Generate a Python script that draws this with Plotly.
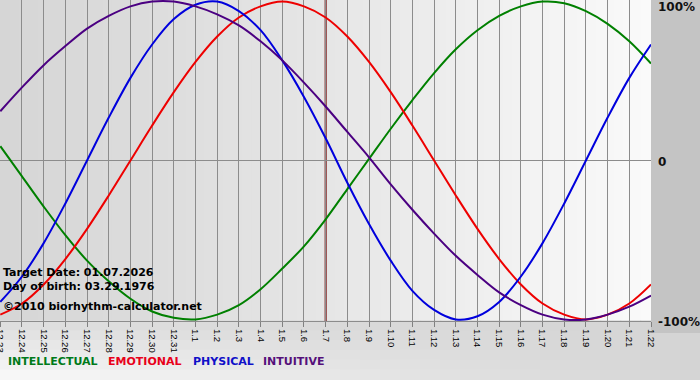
import plotly.graph_objects as go

# ---- data ----
dates = ["12.23", "12.24", "12.25", "12.26", "12.27", "12.28", "12.29", "12.30", "12.31",
         "1.1", "1.2", "1.3", "1.4", "1.5", "1.6", "1.7", "1.8", "1.9", "1.10", "1.11",
         "1.12", "1.13", "1.14", "1.15", "1.16", "1.17", "1.18", "1.19", "1.20", "1.21", "1.22"]

physical = [-89, -73, -52, -27, 0, 27, 52, 73, 89, 98, 100, 94, 82, 63, 40, 14,
            -14, -40, -63, -82, -94, -100, -98, -89, -73, -52, -27, 0, 27, 52, 73]
emotional = [-97, -90, -78, -62, -43, -22, 0, 22, 43, 62, 78, 90, 97, 100, 97, 90,
             78, 62, 43, 22, 0, -22, -43, -62, -78, -90, -97, -100, -97, -90, -78]
intellectual = [9, -10, -29, -47, -63, -76, -87, -95, -99, -100, -97, -91, -81, -68, -54, -37,
                -18, 1, 20, 38, 55, 70, 82, 91, 97, 100, 99, 94, 86, 75, 61]
intuitive = [31, 46, 60, 72, 83, 91, 97, 100, 100, 97, 92, 85, 75, 63, 49, 34,
             18, 2, -15, -31, -46, -60, -72, -83, -91, -97, -100, -100, -97, -92, -85]

series_names = ["INTELLECTUAL", "EMOTIONAL", "PHYSICAL", "INTUITIVE"]
target_date = "1.7"
target_text = "Target Date: 01.07.2026"
birth_text = "Day of birth: 03.29.1976"
credit_text = "©2010 biorhythm-calculator.net"
y_labels = ["100%", "0", "-100%"]
y_label_vals = [100, 0, -100]

# ---- styling ----
W, H = 700, 380
PR, PB = 651, 321          # plot right edge / bottom edge in pixels
colors = {"INTELLECTUAL": "#008000", "EMOTIONAL": "#ee0000",
          "PHYSICAL": "#0000dd", "INTUITIVE": "#4b0082"}
text_colors = {"INTELLECTUAL": "#007a1a", "EMOTIONAL": "#e8001a",
               "PHYSICAL": "#1010c8", "INTUITIVE": "#55107a"}
values = {"INTELLECTUAL": intellectual, "EMOTIONAL": emotional,
          "PHYSICAL": physical, "INTUITIVE": intuitive}

def px(x):
    return x / PR

def py(y):
    return (PB - y) / PB

def gray(v):
    v = int(round(max(0, min(255, v))))
    return f"rgb({v},{v},{v})"

fig = go.Figure()
idx = list(range(len(dates)))
for name in series_names:
    fig.add_trace(go.Scatter(
        x=idx, y=values[name], mode="lines", name=name,
        line=dict(color=colors[name], width=2, shape="spline", smoothing=1),
        hoverinfo="skip", showlegend=False))

shapes = []
# plot-area horizontal gradient
N = 70
for i in range(N):
    t = (i + 0.5) / N
    v = 214 + 36 * (t ** 1.15)
    shapes.append(dict(type="rect", xref="paper", yref="paper", x0=i / N, x1=(i + 1) / N + 0.002,
                       y0=0, y1=1, fillcolor=gray(v), line=dict(width=0), layer="below"))
# bottom strip gradient (lighter toward bottom-left)
NX, NY = 35, 6
for i in range(NX):
    for j in range(NY):
        xa = W * i / NX
        xb = W * (i + 1) / NX
        ya = PB + (H - PB) * j / NY
        yb = PB + (H - PB) * (j + 1) / NY
        tx = (i + 0.5) / NX
        ty = (j + 0.5) / NY
        v = 212 + 38 * (1 - tx) * ty + 8 * (1 - tx) * (1 - ty)
        shapes.append(dict(type="rect", xref="paper", yref="paper",
                           x0=px(xa), x1=px(xb) + 0.002, y0=py(yb), y1=py(ya) + 0.002,
                           fillcolor=gray(v), line=dict(width=0), layer="below"))
# right gray strip
shapes.append(dict(type="rect", xref="paper", yref="paper", x0=1.0, x1=px(W) + 0.01,
                   y0=py(PB + 12), y1=1.0, fillcolor="#c4c4c4", line=dict(width=0), layer="below"))
# target date line
ti = dates.index(target_date)
shapes.append(dict(type="line", xref="x", yref="paper", x0=ti, x1=ti, y0=0, y1=1,
                   line=dict(color="#780808", width=2), layer="between"))

annotations = []
bold = dict(family="DejaVu Sans", size=11, color="black", weight="bold")
for txt, yc in [(target_text, 272.3), (birth_text, 286.7), (credit_text, 306.7)]:
    annotations.append(dict(text=txt, xref="paper", yref="paper", x=px(1), y=py(yc),
                            xanchor="left", yanchor="middle", showarrow=False, font=bold))
for lab, val, yc in zip(y_labels, y_label_vals, [6.7, 161.7, 321.7]):
    annotations.append(dict(text=lab, xref="paper", yref="paper", x=px(656), y=py(yc),
                            xanchor="left", yanchor="middle", showarrow=False,
                            font=dict(family="DejaVu Sans", size=12, color="#111111", weight="bold")))
for name, xl in zip(series_names, [6, 106, 191, 261]):
    annotations.append(dict(text=name, xref="paper", yref="paper", x=px(xl), y=py(361.7),
                            xanchor="left", yanchor="middle", showarrow=False,
                            font=dict(family="DejaVu Sans", size=11, color=text_colors[name],
                                      weight="bold")))

fig.update_layout(
    width=W, height=H,
    margin=dict(l=0, r=W - PR, t=0, b=H - PB, pad=0, autoexpand=False),
    paper_bgcolor="#d8d8d8",
    plot_bgcolor="rgba(0,0,0,0)",
    shapes=shapes,
    annotations=annotations,
    xaxis=dict(range=[-0.014, len(dates) - 1], tickmode="array", tickvals=idx, ticktext=dates,
               tickangle=90, ticks="outside", ticklen=5, tickcolor="#808080",
               ticklabeloverflow="allow", automargin=False,
               showgrid=True, gridcolor="#8c8c8c", gridwidth=1, zeroline=False,
               showline=True, linecolor="#8c8c8c", linewidth=1,
               tickfont=dict(family="Liberation Sans", size=9.5, color="black"),
               fixedrange=True),
    yaxis=dict(range=[-101, 101], tickmode="array", tickvals=[0], showticklabels=False,
               showgrid=True, gridcolor="#8c8c8c", gridwidth=1, zeroline=False,
               showline=False, fixedrange=True, automargin=False),
)

fig.write_html("out.html", config={"displayModeBar": False},
               post_script="document.body.style.margin='0';document.body.style.overflow='hidden';")
